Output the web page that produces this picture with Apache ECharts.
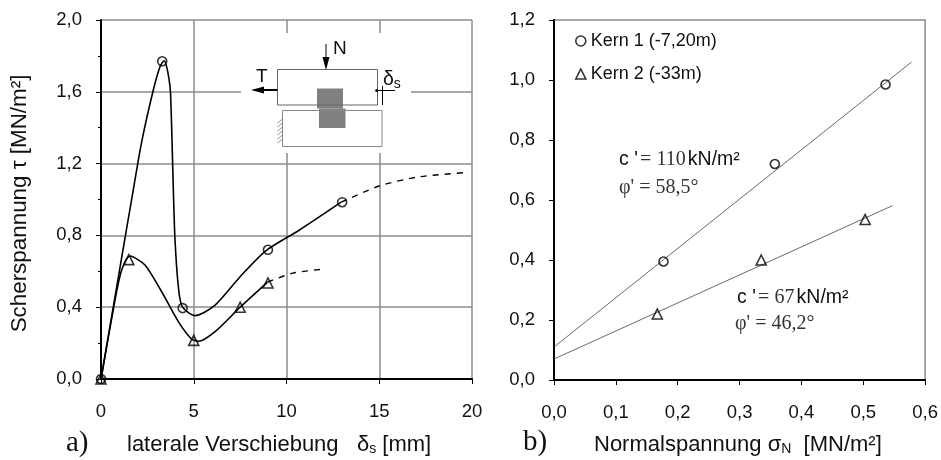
<!DOCTYPE html>
<html>
<head>
<meta charset="utf-8">
<style>
  html, body { margin: 0; padding: 0; background: #fff; }
  #chart { width: 941px; height: 460px; }
</style>
<script src="https://cdn.jsdelivr.net/npm/echarts@6/dist/echarts.min.js"></script>
</head>
<body>
<div id="chart"></div>
<script>
// Linkes Diagramm: Messpunkte
const kern1Points = [[0, 0], [3.3, 1.77], [4.4, 0.395], [9, 0.72], [13, 0.985]];
const kern2Points = [[0, 0], [1.5, 0.665], [5, 0.215], [7.5, 0.40], [9, 0.535]];

// Linkes Diagramm: Kurven
const kern1Curve = [[0, 0], [0.755, 0.458], [1.385, 0.84], [1.74, 1.053], [2.19, 1.32], [2.82, 1.61], [3.18, 1.74],
  [3.40, 1.773], [3.55, 1.735], [3.70, 1.647], [3.75, 1.59], [3.82, 1.36], [3.90, 1.053], [3.99, 0.774], [4.17, 0.514],
  [4.38, 0.403], [5.07, 0.353], [6.15, 0.412], [7.5, 0.57], [8.9, 0.715], [10.7, 0.83], [12.95, 0.985]];
const kern1Dashed = [[12.95, 0.985], [15.04, 1.077], [17.2, 1.127], [19.7, 1.15]];
const kern2Curve = [[0, 0], [0.755, 0.44], [1.115, 0.607], [1.56, 0.685], [2.37, 0.635], [3.27, 0.486], [4.17, 0.32],
  [4.88, 0.223], [5.25, 0.21], [6.15, 0.264], [7.5, 0.40], [8.98, 0.54]];
const kern2Dashed = [[8.98, 0.54], [10.35, 0.59], [12.07, 0.613]];

// Rechtes Diagramm: Punkte und Ausgleichsgeraden
const shearKern1 = [[0.177, 0.395], [0.357, 0.72], [0.536, 0.985]];
const shearKern2 = [[0.167, 0.22], [0.335, 0.40], [0.503, 0.535]];
const lineKern1 = [[0, 0.11], [0.578, 1.06]];
const lineKern2 = [[0, 0.07], [0.547, 0.581]];

const SANS = '"Liberation Sans", Arial, sans-serif';
const SERIF = '"Liberation Serif", "Times New Roman", serif';
const GRID_GREY = '#8c8c8c';
const comma = v => v.toFixed(1).replace('.', ',');

function axisBase(margin) {
  return {
    axisLine: { show: true, onZero: false, lineStyle: { color: '#000', width: 2 } },
    axisTick: { show: true, length: 5, lineStyle: { color: '#000', width: 1 } },
    axisLabel: { color: '#111', fontFamily: SANS, fontSize: 18.5, margin }
  };
}

function curve(data, dashed) {
  return {
    type: 'line', data, smooth: 0.25, symbol: 'none', silent: true,
    lineStyle: { color: '#000', width: dashed ? 1.4 : 1.6, type: dashed ? [6, 6] : 'solid' }
  };
}

function marks(name, data, symbol, size, xAxisIndex, yAxisIndex) {
  return {
    name, type: 'scatter', data, symbol, symbolSize: size, xAxisIndex, yAxisIndex,
    itemStyle: { color: 'rgba(255,255,255,0)', borderColor: '#000', borderWidth: 1.6 }, z: 5
  };
}

function fit(data) {
  return {
    type: 'line', data, xAxisIndex: 1, yAxisIndex: 1, symbol: 'none', silent: true,
    lineStyle: { color: '#444', width: 0.8 }
  };
}

// Texte mit gemischter Schrift
const richFonts = {
  sans: { fontFamily: SANS, fontSize: 19.5, fill: '#111', color: '#111' },
  serif: { fontFamily: SERIF, fontSize: 20, fill: '#333', color: '#333' },
  gap: { fontFamily: SANS, fontSize: 8, fill: '#111', color: '#111' },
  sub: { fontFamily: SANS, fontSize: 14, fill: '#111', color: '#111', verticalAlign: 'bottom', padding: [8, 0, 0, 0] }
};
function label(x, y, text, extra) {
  return { type: 'text', x, y, z: 20, style: Object.assign({ text, rich: richFonts, fontFamily: SANS, fontSize: 19, fill: '#111', verticalAlign: 'middle' }, extra) };
}
function seg(x1, y1, x2, y2, stroke, lineWidth) {
  return { type: 'line', z: 12, shape: { x1, y1, x2, y2 }, style: { stroke, lineWidth } };
}
function tri(points) {
  return { type: 'polygon', z: 13, shape: { points }, style: { fill: '#000' } };
}

// Skizze des Scherversuchs
const hatch = [];
for (let y = 119; y < 142; y += 4) hatch.push(seg(277.5, y + 4, 282.5, y, '#777', 0.8));

const sketch = [
  { type: 'rect', z: 10, shape: { x: 241, y: 33, width: 170, height: 120 }, style: { fill: '#fff' } },
  { type: 'rect', z: 11, shape: { x: 319, y: 108.5, width: 26.5, height: 19.5 }, style: { fill: '#808080' } },
  { type: 'rect', z: 11, shape: { x: 317, y: 88.5, width: 26, height: 20 }, style: { fill: '#808080' } },
  { type: 'rect', z: 12, shape: { x: 277.5, y: 69.5, width: 100, height: 35.5 }, style: { fill: 'none', stroke: '#666', lineWidth: 1 } },
  { type: 'rect', z: 12, shape: { x: 282.5, y: 110.5, width: 99.5, height: 36 }, style: { fill: 'none', stroke: '#888', lineWidth: 1 } },
  seg(326, 44, 326, 60, '#000', 1),
  tri([[322.5, 57], [329.5, 57], [326, 70]]),
  seg(277.5, 90, 262, 90, '#000', 2),
  tri([[264, 86.5], [264, 93.5], [251, 90]]),
  seg(376.5, 90.5, 395, 90.5, '#000', 1),
  seg(382.5, 86, 382.5, 105, '#000', 1),
  { type: 'circle', z: 13, shape: { cx: 376.7, cy: 90.5, r: 1.5 }, style: { fill: '#000' } },
  ...hatch,
  label(333, 49, 'N', { fontSize: 19 }),
  label(256, 77, 'T', { fontSize: 19 }),
  label(383, 80, '{sans|δ}{sub|s}')
];

const chart = echarts.init(document.getElementById('chart'), null, { renderer: 'canvas' });
chart.setOption({
  animation: false,
  backgroundColor: '#fff',
  grid: [
    { left: 101, top: 20, width: 371, height: 359 },
    { left: 554, top: 20, width: 372, height: 360, show: true, borderColor: GRID_GREY, borderWidth: 1.5, backgroundColor: 'transparent' }
  ],
  legend: {
    left: 570, top: 27, orient: 'vertical', itemGap: 15, itemWidth: 10, itemHeight: 10, selectedMode: false,
    textStyle: { fontFamily: SANS, fontSize: 18, color: '#111' },
    data: [
      { name: 'Kern 1 (-7,20m)', icon: 'circle', itemStyle: { color: '#fff', borderColor: '#000', borderWidth: 1.6 } },
      { name: 'Kern 2 (-33m)', icon: 'triangle', itemStyle: { color: '#fff', borderColor: '#000', borderWidth: 1.6 } }
    ]
  },
  xAxis: [
    Object.assign(axisBase(23), {
      gridIndex: 0, type: 'value', min: 0, max: 20, interval: 5,
      splitLine: { show: true, lineStyle: { color: GRID_GREY, width: 1.5 } }
    }),
    Object.assign(axisBase(23), {
      gridIndex: 1, type: 'value', min: 0, max: 0.6, interval: 0.1,
      splitLine: { show: false },
      axisLabel: Object.assign(axisBase(23).axisLabel, { formatter: comma })
    })
  ],
  yAxis: [
    Object.assign(axisBase(19), {
      gridIndex: 0, type: 'value', min: 0, max: 2, interval: 0.4,
      minorTick: { show: true, splitNumber: 2, length: 3, lineStyle: { color: '#000', width: 1 } },
      splitLine: { show: true, lineStyle: { color: GRID_GREY, width: 1.5 } },
      axisLabel: Object.assign(axisBase(19).axisLabel, { formatter: comma }),
      name: 'Scherspannung τ [MN/m²]', nameLocation: 'middle', nameGap: 70,
      nameTextStyle: { fontFamily: SANS, fontSize: 22.4, color: '#111', padding: [0, 8, 0, 0] }
    }),
    Object.assign(axisBase(19), {
      gridIndex: 1, type: 'value', min: 0, max: 1.2, interval: 0.2,
      splitLine: { show: false },
      axisLabel: Object.assign(axisBase(19).axisLabel, { formatter: comma })
    })
  ],
  graphic: {
    elements: [
      ...sketch,
      label(66, 443, 'a)', { fontFamily: SERIF, fontSize: 29 }),
      label(127, 445, 'laterale Verschiebung', { fontSize: 22 }),
      label(357, 445, 'δ{sub|s} [mm]', { fontSize: 22 }),
      label(523, 442, 'b)', { fontFamily: SERIF, fontSize: 29 }),
      label(594, 445, 'Normalspannung σ{sub|N}  [MN/m²]', { fontSize: 22 }),
      label(619, 160, "{sans|c '}{gap| }{serif|= 110}{gap| }{sans|kN/m²}"),
      label(619, 188, "{serif|φ' = 58,5°}"),
      label(737, 298, "{sans|c '}{gap| }{serif|= 67}{gap| }{sans|kN/m²}"),
      label(735, 324, "{serif|φ' = 46,2°}")
    ]
  },
  series: [
    curve(kern1Curve, false),
    curve(kern1Dashed, true),
    curve(kern2Curve, false),
    curve(kern2Dashed, true),
    marks('Kern 1', kern1Points, 'circle', 9, 0, 0),
    marks('Kern 2', kern2Points, 'triangle', 10, 0, 0),
    fit(lineKern1),
    fit(lineKern2),
    marks('Kern 1 (-7,20m)', shearKern1, 'circle', 9, 1, 1),
    marks('Kern 2 (-33m)', shearKern2, 'triangle', 10, 1, 1)
  ]
});
</script>
</body>
</html>
